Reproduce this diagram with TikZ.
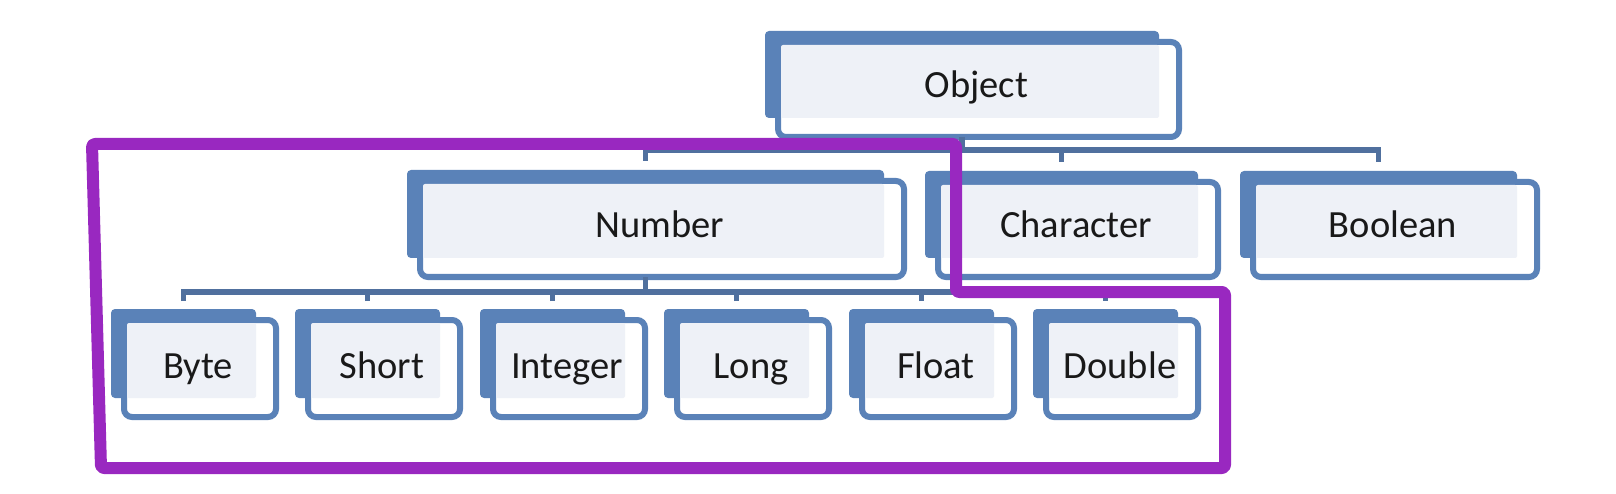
\documentclass[tikz,border=0pt]{standalone}
\usepackage{fontspec}
\setmainfont{Carlito}
\definecolor{boxblue}{RGB}{90,130,184}
\definecolor{busblue}{RGB}{80,112,158}
\definecolor{lightfill}{RGB}{238,241,247}
\definecolor{outlinepurple}{RGB}{153,40,192}
\definecolor{txt}{RGB}{25,25,25}
\tikzset{
  backbox/.style={fill=boxblue, rounded corners=4pt, inner sep=0pt, outer sep=0pt},
  frontbox/.style={fill=white, draw=boxblue, line width=6pt, rounded corners=8pt, inner sep=0pt, outer sep=0pt},
  lightbox/.style={fill=lightfill, rounded corners=2pt, inner sep=0pt, outer sep=0pt},
  label/.style={anchor=base, inner sep=0pt, text=txt, font=\fontsize{38.5}{40}\selectfont},
  bus/.style={draw=busblue, line width=5.5pt},
  hilite/.style={draw=outlinepurple, line width=12pt, line join=round, rounded corners=3pt}
}
% name, x0, y0, x1, y1, text
\newcommand\mkbox[6]{%
  \node[backbox, minimum width={(#4-#2)*1pt}, minimum height={(#5-#3)*1pt}] (#1B) at ({(#2+#4)/2},{(#3+#5)/2}) {};
  \node[frontbox, minimum width={(#4-#2+7)*1pt}, minimum height={(#5-#3+8)*1pt}] (#1F) at ({(#2+#4+33)/2},{(#3+#5+30)/2}) {};
  \node[lightbox, minimum width={(#4-#2-16)*1pt}, minimum height={(#5-#3-14)*1pt}] (#1L) at ({(#2+#4+16)/2},{(#3+#5+14)/2}) {};
  \node[label] (#1T) at ({(#2+#4+33)/2-2},{#5-20}) {#6};
}
\begin{document}
\begin{tikzpicture}[x=1pt,y=-1pt]
\useasboundingbox[fill=white] (0,0) rectangle (1616,494);
\coordinate (busT) at (0,150);
\coordinate (busL) at (0,292);
% invisible reference positions for connectors are taken from the boxes drawn below
\mkbox{obj}{765}{31}{1159}{118}{Object}
\mkbox{num}{407}{170}{884}{258}{Number}
\mkbox{chr}{925}{171}{1198}{258}{Character}
\mkbox{bool}{1240}{171}{1517}{258}{Boolean}
\mkbox{byte}{111}{309}{256}{398}{Byte}
\mkbox{short}{295}{309}{440}{398}{Short}
\mkbox{int}{480}{309}{625}{398}{Integer}
\mkbox{long}{664}{309}{809}{398}{Long}
\mkbox{float}{849}{309}{994}{398}{Float}
\mkbox{dbl}{1033}{309}{1178}{398}{Double}
% connectors
\draw[bus] (objF.south -| objB.south) -- (objB.south |- busT);
\draw[bus] ([yshift=9pt]numB.north) |- (busT -| boolB.north) -- ([yshift=9pt]boolB.north);
\draw[bus] ([yshift=9pt]chrB.north) -- (chrB.north |- busT);
\draw[bus] (numF.south -| numB.south) -- (numB.south |- busL);
\draw[bus] ([yshift=8pt]byteB.north) |- (busL -| dblB.north) -- ([yshift=8pt]dblB.north);
\foreach \n in {short,int,long,float}{
  \draw[bus] ([yshift=8pt]\n B.north) -- (\n B.north |- busL);
}
% highlight outline
\draw[hilite] (92,144) -- (956,144) -- (956,292) -- (1225,292) -- (1225,468) -- (101,468) -- cycle;
\end{tikzpicture}
\end{document}
